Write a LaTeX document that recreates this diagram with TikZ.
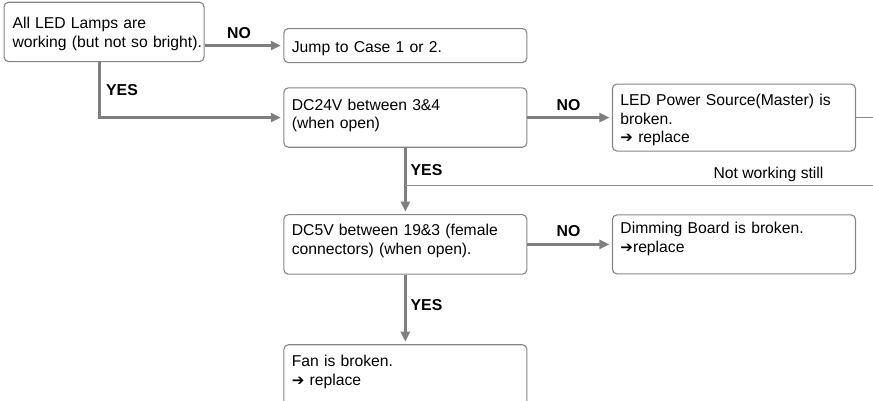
\documentclass[tikz,border=0pt]{standalone}
\usepackage{fontspec}
\setmainfont{Liberation Sans}
\newfontfamily\symfont{DejaVu Sans}
\usepackage{xcolor}
\usetikzlibrary{arrows.meta, positioning}
\definecolor{boxgray}{HTML}{858585}
\definecolor{arrgray}{HTML}{7F7F7F}
\definecolor{linegray}{HTML}{8C8C8C}
\newcommand{\boxfont}{\fontsize{15.7}{18.8}\selectfont}
\newcommand{\tagfont}{\fontsize{15.8}{15.8}\selectfont\bfseries}
\newcommand{\toarrow}{{\symfont\fontsize{15}{15}\selectfont ➔}}
\begin{document}
\begin{tikzpicture}[x=1pt, y=-1pt,
  block/.style={rectangle, rounded corners=4.5pt, draw=boxgray, line width=1.1pt,
    anchor=north west, align=left, text width=227pt, inner xsep=8pt,
    inner ysep=0pt, font=\boxfont},
  tall/.style 2 args={text height=#1pt, text depth=#2pt},
  arr/.style={-{Triangle[length=10pt, width=9pt]}, line width=3pt, arrgray,
    shorten >=2.5pt},
  link/.style={line width=1.1pt, linegray},
  tag/.style={font=\tagfont, inner sep=0pt},
  note/.style={font=\boxfont, inner sep=0pt, anchor=base},
]
\useasboundingbox (0,0) rectangle (873,400);
% ====== LEFT COLUMN: CHECKS ======
\node[block, tall={26}{33.3}, text width=183pt, inner xsep=8.5pt] (q_lamps)
  at (3.5,1.7) {All LED Lamps are\\\mbox{working (but not so bright).}};
\node[block, tall={23.5}{10.5}] (r_jump) at (283.3,28) {Jump to Case 1 or 2.};
\node[block, tall={22.2}{37.2}] (q_dc24) at (283.3,87.3)
  {DC24V between 3\&4\\(when open)};
\node[block, tall={21.3}{38.2}, below=66.3pt of q_dc24] (q_dc5)
  {DC5V between 19\&3 (female\\connectors) (when open).};
\node[block, tall={22}{45}, below=69.5pt of q_dc5] (r_fan)
  {Fan is broken.\\\toarrow\ replace};
% ====== RIGHT COLUMN: RESULTS ======
\node[block, tall={21.3}{45.7}, right=84.5pt of q_dc24] (r_power)
  {LED Power Source(Master) is\\broken.\\\toarrow\ replace};
\node[block, tall={19}{40}, right=84.5pt of q_dc5] (r_dimming)
  {Dimming Board is broken.\\\toarrow replace};
% ====== ARROWS ======
\draw[arr] (q_lamps.east |- r_jump.west) -- (r_jump.west);
\draw[arr] ([xshift=-4.5pt]q_lamps.south) |- (q_dc24.west);
\draw[arr] (q_dc24.east) -- (r_power.west);
\draw[arr] (q_dc24.south) -- (q_dc5.north);
\draw[arr] (q_dc5.east) -- (r_dimming.west);
\draw[arr] (q_dc5.south) -- (r_fan.north);
% ====== LOOP BACK LINES ======
\coordinate (c_edge) at (875,0);
\coordinate (c_still) at (0,185.5);
\draw[link] (r_power.east) -- (r_power.east -| c_edge);
\draw[link] (q_dc24.south |- c_still) -- (c_edge |- c_still);
% ====== LABELS ======
\node[tag] (t_no1) at (239,33) {NO};
\node[tag] (t_yes1) at (122,90) {YES};
\node[tag] (t_no2) at (568.5,105) {NO};
\node[tag] (t_yes2) at (426.5,170) {YES};
\node[tag] (t_no3) at (568.5,231) {NO};
\node[tag] (t_yes3) at (426.5,305) {YES};
\node[note] (t_still) at (768.5,178.5) {Not working still};
\end{tikzpicture}
\end{document}
